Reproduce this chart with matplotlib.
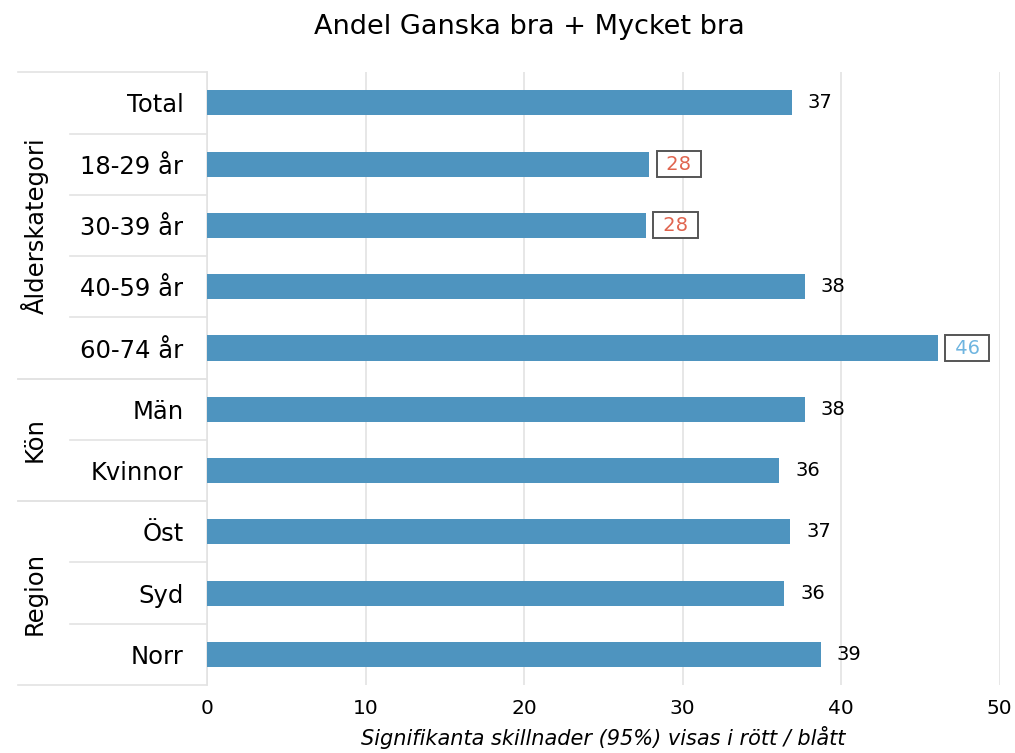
import matplotlib.pyplot as plt
import matplotlib.transforms as mtransforms

plt.rcParams['font.family'] = ['DejaVu Sans']

categories = ['Total', '18-29 år', '30-39 år', '40-59 år', '60-74 år',
              'Män', 'Kvinnor', 'Öst', 'Syd', 'Norr']
values = [36.9, 27.9, 27.7, 37.7, 46.1, 37.7, 36.1, 36.8, 36.4, 38.7]
# 0 = not significant, -1 = significantly lower (red), 1 = higher (blue)
signif = [0, -1, -1, 0, 1, 0, 0, 0, 0, 0]
groups = ['Ålderskategori', 'Kön', 'Region']
group_rows = [(0, 4), (5, 6), (7, 9)]

bar_color = '#4e94bf'
red = '#e0654f'
blue = '#6fb5e0'
line_col = '#e3e3e3'

fig = plt.figure(figsize=(10.15, 7.53), dpi=100)
ax = fig.add_axes([0.204, 0.0903, 0.781, 0.8137])

pos = list(range(len(categories)))
ax.barh(pos, values, height=0.41, color=bar_color, zorder=3)
ax.set_ylim(len(categories) - 0.5, -0.5)
ax.set_xlim(0, 50)
ax.set_xticks([0, 10, 20, 30, 40, 50])
ax.tick_params(axis='x', length=0, labelsize=14.5, pad=10)
ax.set_yticks(pos)
ax.set_yticklabels(categories, fontsize=17.5)
ax.tick_params(axis='y', length=0, pad=17)
ax.grid(axis='x', color=line_col, linewidth=1.2, zorder=0)
for s in ['top', 'right', 'bottom']:
    ax.spines[s].set_visible(False)
ax.spines['left'].set_color(line_col)
ax.spines['left'].set_linewidth(1.2)

for i, v in enumerate(values):
    lbl = f'{v:.0f}'
    if signif[i] == 0:
        ax.text(v + 1.0, i, lbl, va='center', ha='left', fontsize=14, color='black')
    else:
        # significant values get a framed label
        c = red if signif[i] < 0 else blue
        ax.text(v + 1.85, i, ' ' + lbl + ' ', va='center', ha='center',
                fontsize=14, color=c,
                bbox=dict(boxstyle='square,pad=0.18', fc='white', ec='#555555', lw=1.4))

# row separators and group labels in the left margin
trans = mtransforms.blended_transform_factory(ax.transAxes, ax.transData)
x_outer = (18 - 207) / (0.781 * 1015)
x_inner = (70 - 207) / (0.781 * 1015)
x_glabel = (35 - 207) / (0.781 * 1015)
for name, (a, b) in zip(groups, group_rows):
    ax.plot([x_outer, 0], [a - 0.5, a - 0.5], color=line_col, lw=1.2,
            transform=trans, clip_on=False)
    ax.plot([x_outer, 0], [b + 0.5, b + 0.5], color=line_col, lw=1.2,
            transform=trans, clip_on=False)
    for r in range(a, b):
        ax.plot([x_inner, 0], [r + 0.5, r + 0.5], color=line_col, lw=1.2,
                transform=trans, clip_on=False)
    ax.text(x_glabel, (a + b) / 2, name, rotation=90, ha='center', va='center',
            fontsize=17.5, transform=trans)

ax.set_xlabel('Signifikanta skillnader (95%) visas i rött / blått',
              fontsize=15, style='italic', labelpad=6)
fig.suptitle('Andel Ganska bra + Mycket bra', x=0.522, y=0.982, fontsize=19.5)

fig.savefig('out.png', dpi=100)
